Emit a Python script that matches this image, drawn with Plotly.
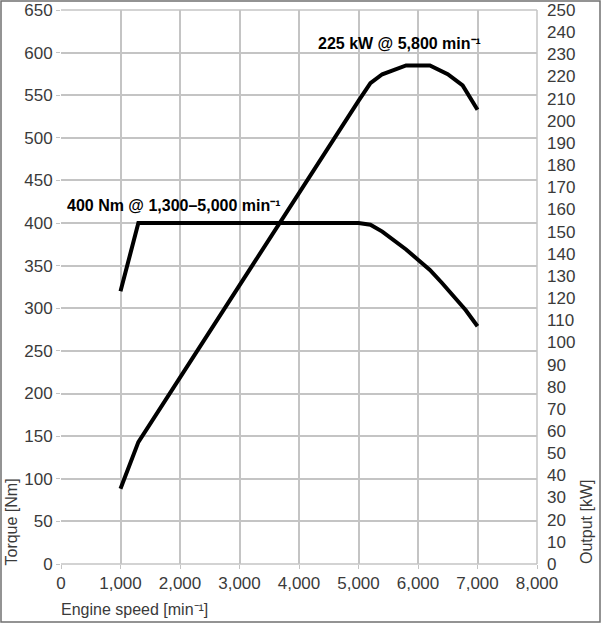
import plotly.graph_objects as go

rpm_torque = [1000, 1300, 5000, 5200, 5400, 5600, 5800, 6000, 6200, 6400, 6600, 6800, 7000]
torque_nm = [320, 400, 400, 398, 390, 380, 369, 357, 345, 330, 314, 298, 279]

rpm_power = [1000, 1300, 5000, 5200, 5400, 5800, 6200, 6500, 6750, 7000]
power_kw = [34, 55, 209, 217, 221, 225, 225, 221, 216, 205]

x_ticks = [0, 1000, 2000, 3000, 4000, 5000, 6000, 7000, 8000]
x_ticklabels = ["0", "1,000", "2,000", "3,000", "4,000", "5,000", "6,000", "7,000", "8,000"]

FONT = "Liberation Sans, Arial, sans-serif"
GRID = "#c4c4c4"
TXT = "#3a3a3a"

fig = go.Figure()
fig.add_trace(go.Scatter(x=rpm_torque, y=torque_nm, mode="lines",
                         line=dict(color="black", width=4), yaxis="y", showlegend=False))
fig.add_trace(go.Scatter(x=rpm_power, y=power_kw, mode="lines",
                         line=dict(color="black", width=4), yaxis="y2", showlegend=False))

fig.update_layout(
    width=602, height=625,
    margin=dict(l=61, r=65, t=10, b=61, autoexpand=False),
    paper_bgcolor="white", plot_bgcolor="white",
    font=dict(family=FONT, size=17, color=TXT),
    xaxis=dict(range=[0, 8000], tickvals=x_ticks, ticktext=x_ticklabels,
               showgrid=True, gridcolor=GRID, gridwidth=1.5, automargin=False,
               zeroline=False, showline=False,
               ticks="outside", ticklen=4, tickcolor=GRID,
               tickfont=dict(size=17, color=TXT)),
    yaxis=dict(range=[0, 650], dtick=50, showgrid=True, gridcolor=GRID, gridwidth=1.5,
               zeroline=False, showline=False, automargin=False,
               ticks="outside", ticklen=4, tickcolor=GRID,
               tickfont=dict(size=17, color=TXT)),
    yaxis2=dict(range=[0, 250], dtick=10, overlaying="y", side="right",
                showgrid=False, zeroline=False, showline=False, automargin=False,
                ticks="", ticklabelstandoff=9,
                tickfont=dict(size=17, color=TXT)),
)

fig.add_shape(type="line", xref="paper", yref="paper", x0=0, x1=1, y0=1, y1=1,
              line=dict(color=GRID, width=1.5))
fig.add_shape(type="line", xref="paper", yref="paper", x0=1, x1=1, y0=0, y1=1,
              line=dict(color=GRID, width=1.5))
fig.add_shape(type="line", xref="paper", yref="paper", x0=0, x1=1, y0=0, y1=0,
              line=dict(color=GRID, width=1.5))

# image frame
fig.add_shape(type="rect", xref="paper", yref="paper",
              x0=-60/476, x1=539/476, y0=-58/554, y1=1 + 9/554,
              line=dict(color="#707070", width=1.5))

fig.add_annotation(text="<b>225 kW @ 5,800 min⁻¹</b>", x=(316-61)/476, y=(564-44)/554,
                   xref="paper", yref="paper", xanchor="left", yanchor="middle",
                   showarrow=False, font=dict(size=16, color="black", family=FONT))
fig.add_annotation(text="<b>400 Nm @ 1,300–5,000 min⁻¹</b>", x=(65-61)/476, y=(564-205)/554,
                   xref="paper", yref="paper", xanchor="left", yanchor="middle",
                   showarrow=False, font=dict(size=16, color="black", family=FONT))

fig.add_annotation(text="Engine speed [min⁻¹]", x=-2/476, y=-45/554, xref="paper", yref="paper",
                   xanchor="left", yanchor="middle", showarrow=False,
                   font=dict(size=16, color=TXT, family=FONT))
fig.add_annotation(text="Torque [Nm]", x=-50/476, y=-4/554, xref="paper", yref="paper",
                   xanchor="center", yanchor="bottom", textangle=-90, showarrow=False,
                   font=dict(size=16, color=TXT, family=FONT))
fig.add_annotation(text="Output [kW]", x=(586-61)/476, y=-2/554, xref="paper", yref="paper",
                   xanchor="center", yanchor="bottom", textangle=-90, showarrow=False,
                   font=dict(size=16, color=TXT, family=FONT))

fig.write_html("out.html", config={"displayModeBar": False},
               post_script="document.body.style.margin='0';document.body.style.padding='0';")
